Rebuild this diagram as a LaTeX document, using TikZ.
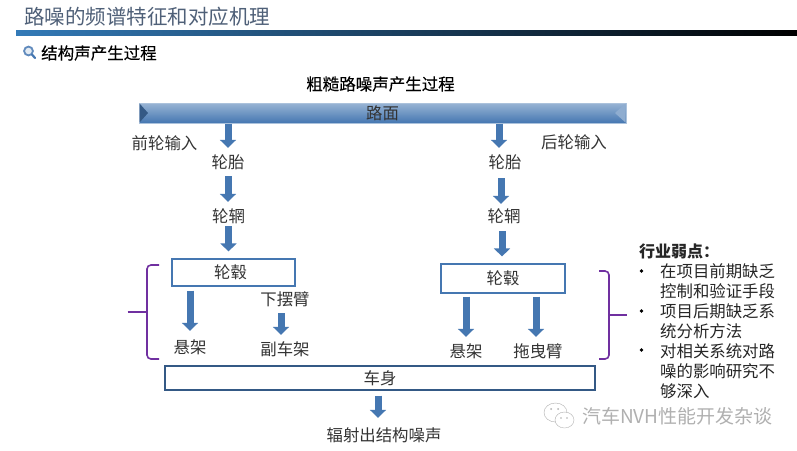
\documentclass[tikz,border=0pt]{standalone}
\usepackage{fontspec}
\setmainfont{Noto Sans CJK SC}
\newfontfamily\medfont[FakeBold=0.25]{Noto Sans CJK SC}
\usetikzlibrary{arrows.meta,calc}
\definecolor{flowblue}{HTML}{4577B1}
\definecolor{bracepurple}{HTML}{7030A0}
\definecolor{titleslate}{HTML}{4F6078}
\definecolor{markgray}{HTML}{B0B0B0}
\tikzset{
    txt/.style={font=\fontsize{16.4}{18}\selectfont, text=black!80, inner sep=0pt, minimum height=28pt},
    flow/.style={draw=flowblue, line width=7pt, -{Triangle[width=16pt,length=8pt]}},
    partbox/.style={draw=#1, line width=1.2pt, fill=white, inner sep=0pt, font=\fontsize{16.4}{18}\selectfont, text=black!80},
    bracepath/.style={draw=bracepurple, line width=1.6pt, rounded corners=4pt},
    sidetxt/.style={font=\fontsize{16.4}{20}\selectfont, text=black!85, inner sep=0pt, align=left, anchor=north west}
}
\begin{document}
\begin{tikzpicture}[x=1pt,y=-1pt]
        \useasboundingbox (0,0) rectangle (797,450);
        \fill[white] (0,0) rectangle (797,450);
        \node[font=\fontsize{20.5}{24}\selectfont, text=titleslate, inner sep=0pt, anchor=west] (pagetitle) at (24,17) {路噪的频谱特征和对应机理};
        \shade[left color=teal!70!blue!80!white, middle color=blue!25!black, right color=black] (16,30) rectangle (797,35);
        \draw[draw=flowblue!85!white, line width=1.8pt, fill=flowblue!15!white] (28.5,51) circle(4.4);
        \draw[draw=flowblue, line width=2.2pt, line cap=round] (32,54.5) -- (35,58);
        \node[font=\fontsize{16.5}{20}\medfont\selectfont, inner sep=0pt, anchor=west] (subtitle) at (41,53) {结构声产生过程};
        \node[font=\fontsize{16.5}{20}\medfont\selectfont, inner sep=0pt] (heading) at (380.5,84) {粗糙路噪声产生过程};

        \node[top color=flowblue!55!white, middle color=flowblue!85!white, bottom color=flowblue, draw=flowblue!45!white, line width=1pt, minimum width=487pt, minimum height=20pt, inner sep=0pt, font=\fontsize{16.4}{18}\selectfont, text=black!80] (road) at (382.5,113) {路面};
        \fill[flowblue!75!black] (139.5,103.5) -- (148,113) -- (139.5,122.5) -- cycle;
        \fill[flowblue!60!white] (625.5,103.5) -- (615,113) -- (625.5,122.5) -- cycle;

        \node[txt] (frontin) at (164.5,143) {前轮输入};
        \node[txt] (rearin) at (574,142) {后轮输入};
        \node[txt] (tirel) at (228,162) {轮胎};
        \node[txt] (riml) at (228.5,216) {轮辋};
        \node[partbox=flowblue, minimum width=123pt, minimum height=27pt] (hubl) at (233.5,272.5) {\hspace*{-6pt}轮毂};
        \node[txt] (suspl) at (190,347) {悬架};
        \node[txt] (armlow) at (285,299) {下摆臂};
        \node[txt] (subframe) at (285,349) {副车架};
        \node[txt] (tirer) at (505,162) {轮胎};
        \node[txt] (rimr) at (504,216) {轮辋};
        \node[partbox=flowblue, minimum width=124pt, minimum height=29pt] (hubr) at (503,278.5) {轮毂};
        \node[txt] (suspr) at (466,351) {悬架};
        \node[txt] (armdrag) at (538,351) {拖曳臂};
        \node[partbox=flowblue!75!black, minimum width=430pt, minimum height=24pt] (body) at (380,378) {车身};
        \node[txt] (radiate) at (384,435) {辐射出结构噪声};

        \draw[flow] (road.south -| tirel) -- (tirel.north);
        \draw[flow] (tirel.south) -- (tirel.south |- riml.north);
        \draw[flow, shorten <=-4pt, shorten >=7pt] (riml.south) -- (riml.south |- hubl.north);
        \draw[flow, shorten <=4pt, shorten >=2pt] (hubl.south -| suspl) -- (suspl.north);
        \draw[flow] ([xshift=-4pt]armlow.south) -- ([xshift=-4pt]subframe.north);
        \draw[flow] ([xshift=-6pt]road.south -| tirer) -- ([xshift=-6pt]tirer.north);
        \draw[flow, shorten <=2pt, shorten >=-2pt] ([xshift=-4pt]tirer.south) -- ([xshift=-4pt]rimr.north -| tirer);
        \draw[flow, shorten <=1pt, shorten >=7pt] ([xshift=-2pt]rimr.south) -- ([xshift=-2pt]rimr.south |- hubr.north);
        \draw[flow, shorten <=3pt] (hubr.south -| suspr) -- (suspr.north);
        \draw[flow, shorten <=3pt] ([xshift=-2pt]hubr.south -| armdrag) -- ([xshift=-2pt]armdrag.north);
        \draw[flow, shorten <=5pt, shorten >=3pt] ([xshift=-6pt]body.south -| radiate) -- ([xshift=-6pt]radiate.north);

        \draw[bracepath] (159,265) -- (147,265) -- (147,359) -- (159,359);
        \draw[bracepurple, line width=1.6pt] (127.5,312) -- (147,312);
        \draw[bracepath] (599,271) -- (609,271) -- (609,359) -- (599,359);
        \draw[bracepurple, line width=1.6pt] (609,315) -- (627,315);

        \node[sidetxt, font=\fontsize{16}{20}\bfseries\selectfont, anchor=west] (weakhead) at (639,251) {行业弱点：};
        \node[sidetxt] (weaka) at (660,263.5) {在项目前期缺乏\\控制和验证手段};
        \node[sidetxt] (weakb) at (660,303.5) {项目后期缺乏系\\统分析方法};
        \node[sidetxt] (weakc) at (660,343) {对相关系统对路\\噪的影响研究不\\够深入};
        \foreach \yy in {271,311,350} \fill[black] (641.5,\yy) circle(1.8);

        \draw[markgray, fill=white] (555.5,412.5) ellipse (11.5 and 9.5);
        \draw[markgray, fill=white] (564.5,420) ellipse (9.5 and 8);
        \fill[markgray] (551,409) circle(1) (558,409) circle(1) (561,418) circle(0.8) (567,418) circle(0.8);
        \node[font=\fontsize{19}{22}\selectfont, text=markgray, inner sep=0pt, anchor=west] (mark) at (582,416) {汽车NVH性能开发杂谈};
\end{tikzpicture}
\end{document}
